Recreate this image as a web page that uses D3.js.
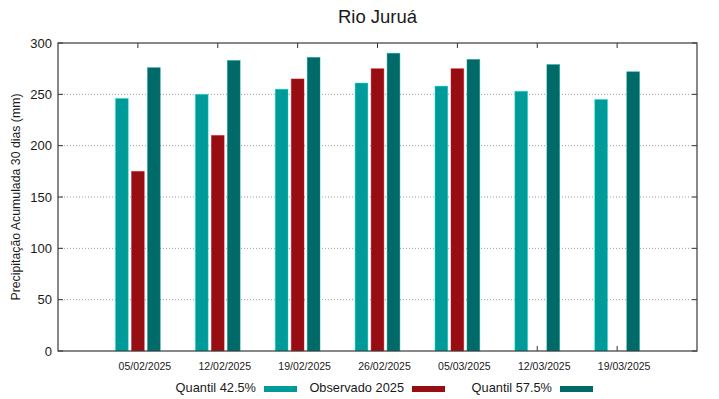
<!DOCTYPE html>
<html>
<head>
<meta charset="utf-8">
<script src="https://cdn.jsdelivr.net/npm/d3@7"></script>
<style>
  body { margin: 0; background: #fff; }
  text { font-family: "Liberation Sans", Arial, sans-serif; fill: #1a1a1a; }
</style>
</head>
<body>
<div id="chart"></div>
<script>
// data
var dates = ["05/02/2025","12/02/2025","19/02/2025","26/02/2025","05/03/2025","12/03/2025","19/03/2025"];
var seriesNames = ["Quantil 42.5%","Observado 2025","Quantil 57.5%"];
var q425 = [246, 250, 255, 261, 258, 253, 245];
var observado = [175, 210, 265, 275, 275, null, null];
var q575 = [276, 283, 286, 290, 284, 279, 272];
var yTicks = [0, 50, 100, 150, 200, 250, 300];
var colors = ["#009b99", "#960d12", "#006a68"];

var W = 719, H = 399;
var margin = {left: 58, right: 22, top: 43, bottom: 48};

var svg = d3.select("#chart").append("svg")
  .attr("width", W).attr("height", H);

// scales
var x = d3.scaleLinear().domain([0, dates.length + 1]).range([margin.left, W - margin.right]);
var y = d3.scaleLinear().domain([0, 300]).range([H - margin.bottom, margin.top]);
var xSub = d3.scaleBand().domain(seriesNames).range([-22.4, 22.4]).paddingInner(0.2);

// dotted grid
svg.append("g").selectAll("line")
  .data(yTicks.filter(function(d){ return d > 0 && d < 300; }))
  .enter().append("line")
  .attr("x1", x(0)).attr("x2", x(dates.length + 1))
  .attr("y1", function(d){ return y(d); }).attr("y2", function(d){ return y(d); })
  .attr("stroke", "#9a9a9a").attr("stroke-width", 1)
  .attr("stroke-dasharray", "1,2");

// x ticks (inward, top and bottom) - drawn under the bars
var tk = svg.append("g");
dates.forEach(function(d, i){
  tk.append("line").attr("x1", x(i+1)).attr("x2", x(i+1))
    .attr("y1", y(300)).attr("y2", y(300) + 5).attr("stroke", "#333");
  tk.append("line").attr("x1", x(i+1)).attr("x2", x(i+1))
    .attr("y1", y(0)).attr("y2", y(0) - 5).attr("stroke", "#333");
});

// bars
var allSeries = [q425, observado, q575];
allSeries.forEach(function(vals, s){
  svg.append("g").selectAll("rect")
    .data(vals.map(function(v, i){ return {v: v, i: i}; }).filter(function(d){ return d.v != null; }))
    .enter().append("rect")
    .attr("x", function(d){ return x(d.i + 1) + xSub(seriesNames[s]); })
    .attr("width", xSub.bandwidth())
    .attr("y", function(d){ return y(d.v); })
    .attr("height", function(d){ return y(0) - y(d.v); })
    .attr("fill", colors[s])
    .attr("stroke", d3.color(colors[s]).brighter(1.2))
    .attr("stroke-opacity", 0.5)
    .attr("stroke-width", 0.8);
});

// y ticks inward on both sides
var yt = svg.append("g");
yTicks.forEach(function(t){
  yt.append("line").attr("x1", x(0)).attr("x2", x(0) + 5)
    .attr("y1", y(t)).attr("y2", y(t)).attr("stroke", "#333");
  yt.append("line").attr("x1", x(dates.length+1)).attr("x2", x(dates.length+1) - 5)
    .attr("y1", y(t)).attr("y2", y(t)).attr("stroke", "#333");
  yt.append("text").attr("x", x(0) - 6).attr("y", y(t)).attr("dy", "0.36em")
    .attr("text-anchor", "end").style("font-size", "13px").text(t);
});

// frame
svg.append("rect")
  .attr("x", x(0)).attr("y", y(300))
  .attr("width", x(dates.length+1) - x(0)).attr("height", y(0) - y(300))
  .attr("fill", "none").attr("stroke", "#3a3a3a").attr("stroke-width", 1.2);

// x labels
svg.append("g").selectAll("text").data(dates).enter().append("text")
  .attr("x", function(d, i){ return x(i+1) + 7; })
  .attr("y", y(0) + 19)
  .attr("text-anchor", "middle").style("font-size", "10.5px")
  .text(function(d){ return d; });

// title
svg.append("text").attr("x", (x(0) + x(dates.length+1))/2).attr("y", 23)
  .attr("text-anchor", "middle").style("font-size", "18.5px").text("Rio Juruá");

// y label
svg.append("text")
  .attr("transform", "translate(20," + (y(150)) + ") rotate(-90)")
  .attr("text-anchor", "middle").style("font-size", "12.3px")
  .text("Precipitação Acumulada 30 dias (mm)");

// legend
var legendX = [256, 404, 552];
var lg = svg.append("g");
seriesNames.forEach(function(n, s){
  lg.append("text").attr("x", legendX[s]).attr("y", 392)
    .attr("text-anchor", "end").style("font-size", "12.8px").text(n);
  lg.append("rect").attr("x", legendX[s] + 8).attr("y", 386)
    .attr("width", 33).attr("height", 6).attr("fill", colors[s]);
});
</script>
</body>
</html>
